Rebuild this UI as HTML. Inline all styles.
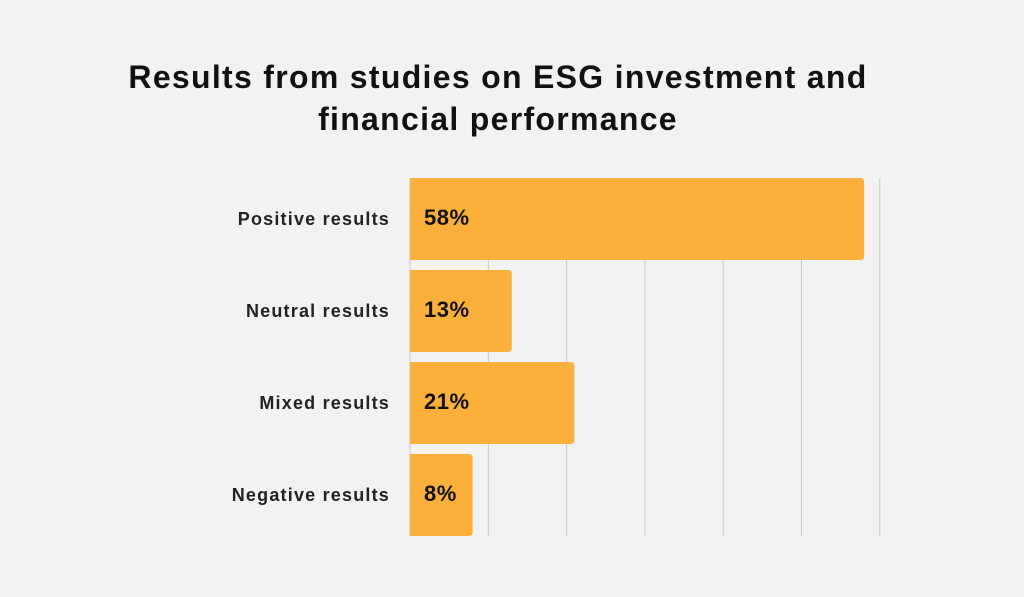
<!DOCTYPE html>
<html><head><meta charset="utf-8"><style>
body{margin:0;background:#f2f2f2;font-family:"Liberation Sans",sans-serif;}
#c{position:relative;width:1024px;height:597px;overflow:hidden;background:#f2f2f2;}
h1{position:absolute;left:0;top:56px;width:996px;text-align:center;margin:0;font-size:32px;line-height:42px;font-weight:bold;color:#111;letter-spacing:1.3px;}
</style></head><body>
<div id="c">
<h1>Results from studies on ESG investment and<br>financial performance</h1>
<svg id="s" width="1024" height="597" style="position:absolute;left:0;top:0"></svg>
</div>
<script>
const categories=["Positive results","Neutral results","Mixed results","Negative results"];
const values=[58,13,21,8];
const valueLabels=["58%","13%","21%","8%"];
const gridTicks=[0,10,20,30,40,50,60];
const x0=410,pxPer=7.83,yTop=178,band=92,barH=82;
const xs=v=>x0+v*pxPer;
const svg=document.getElementById('s');const NS="http://www.w3.org/2000/svg";
function mk(t,a){const e=document.createElementNS(NS,t);for(const k in a)e.setAttribute(k,a[k]);svg.appendChild(e);return e;}
gridTicks.forEach(t=>{const l=mk('line',{x1:xs(t),x2:xs(t),y1:yTop,y2:536,stroke:'#c8c8c8','stroke-width':1});

});
categories.forEach((c,i)=>{
const y=yTop+i*band;const w=xs(values[i])-x0;
const r=mk('path',{d:`M${x0} ${y}H${x0+w-4}Q${x0+w} ${y} ${x0+w} ${y+4}V${y+barH-4}Q${x0+w} ${y+barH} ${x0+w-4} ${y+barH}H${x0}Z`,fill:'#fbb03b'});


const lb=mk('text',{x:390,y:y+barH/2+6,'text-anchor':'end','font-size':18,'font-weight':'bold',fill:'#222','letter-spacing':'1.2','font-family':'Liberation Sans, sans-serif'});lb.textContent=c;


const vl=mk('text',{x:424,y:y+barH/2+6,'font-size':22,'font-weight':'bold',fill:'#111','letter-spacing':'0.5','font-family':'Liberation Sans, sans-serif'});vl.textContent=valueLabels[i];


});
</script>
</body></html>
